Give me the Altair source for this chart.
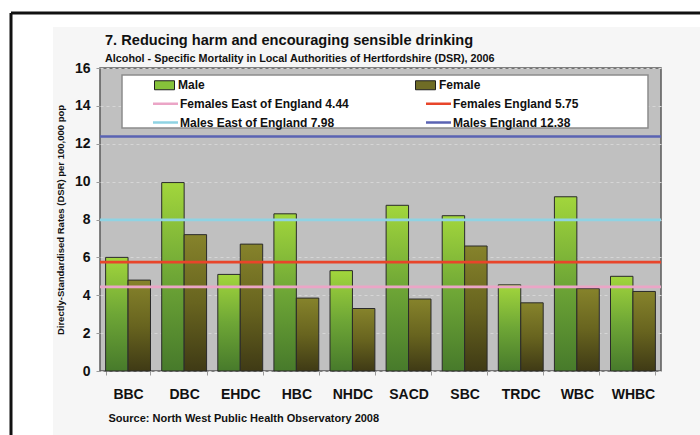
import altair as alt
import pandas as pd

# Local authorities of Hertfordshire
districts = ["BBC", "DBC", "EHDC", "HBC", "NHDC", "SACD", "SBC", "TRDC", "WBC", "WHBC"]
# Alcohol-specific mortality, directly standardised rate per 100,000
male_rates = [6.0, 9.95, 5.1, 8.3, 5.3, 8.75, 8.2, 4.55, 9.2, 5.0]
female_rates = [4.8, 7.2, 6.7, 3.85, 3.3, 3.8, 6.6, 3.6, 4.35, 4.2]

# Comparator rates drawn as horizontal reference lines
ref_labels = [
    "Females East of England 4.44",
    "Females England 5.75",
    "Males East of England 7.98",
    "Males England 12.38",
]
ref_values = [4.44, 5.75, 7.98, 12.38]
ref_colors = ["#eba5c6", "#e8452a", "#8fd3e3", "#5a63b3"]

sexes = ["Male", "Female"]
sex_colors = ["#86c23a", "#6f6c26"]

y_ticks = [0, 2, 4, 6, 8, 10, 12, 14, 16]

title_text = "7. Reducing harm and encouraging sensible drinking"
subtitle_text = "Alcohol - Specific Mortality in Local Authorities of Hertfordshire (DSR), 2006"
source_text = "Source: North West Public Health Observatory 2008"
y_title = "Directly-Standardised Rates (DSR) per 100,000 pop"

bars_df = pd.DataFrame({
    "district": districts * 2,
    "sex": ["Male"] * len(districts) + ["Female"] * len(districts),
    "rate": male_rates + female_rates,
})
ref_df = pd.DataFrame({"series": ref_labels, "value": ref_values})
one = pd.DataFrame({"k": [0]})

W, H = 561, 303
FONT = "Liberation Sans"

male_fill = {
    "gradient": "linear", "x1": 0, "y1": 0, "x2": 0, "y2": 1,
    "stops": [
        {"offset": 0, "color": "#a2d63c"},
        {"offset": 0.5, "color": "#6ea636"},
        {"offset": 1, "color": "#477a2b"},
    ],
}
female_fill = {
    "gradient": "linear", "x1": 0, "y1": 0, "x2": 0, "y2": 1,
    "stops": [
        {"offset": 0, "color": "#86832b"},
        {"offset": 0.5, "color": "#68641f"},
        {"offset": 1, "color": "#3f3a15"},
    ],
}

x_enc = alt.X(
    "district:N",
    sort=districts,
    scale=alt.Scale(paddingInner=0.2, paddingOuter=0.1),
    axis=alt.Axis(
        title=source_text,
        titleFont=FONT, titleFontSize=11, titleFontWeight="bold", titleColor="#111",
        titleX=8, titleY=47, titleAlign="left", titleBaseline="middle",
        labelFont=FONT, labelFontSize=14, labelFontWeight="bold", labelColor="#111",
        labelAngle=0, labelPadding=12, tickBand="extent", ticks=True, tickSize=4,
        tickColor="#9a9a9a", domain=False, grid=False,
    ),
)
xoff_enc = alt.XOffset(
    "sex:N", sort=sexes,
    scale=alt.Scale(domain=sexes, paddingInner=0, paddingOuter=0),
)
y_scale = alt.Scale(domain=[0, 16], nice=False)
y_axis = alt.Axis(
    title=y_title,
    titleFont=FONT, titleFontSize=9.5, titleFontWeight="bold", titleColor="#111",
    titlePadding=9,
    values=y_ticks, tickCount=9, labelOverlap=False, labelFont=FONT, labelFontSize=14,
    labelFontWeight="bold", labelColor="#111", labelPadding=6, tickSize=4,
    tickColor="#9a9a9a", domain=False, grid=True, gridColor="#d6d6d6",
    gridDash=[3, 3], gridWidth=1,
)
y_enc = alt.Y("rate:Q", scale=y_scale, axis=y_axis)

base = alt.Chart(bars_df)

male_bars = base.transform_filter(alt.datum.sex == "Male").mark_bar(
    fill=male_fill, stroke="#2a2a2a", strokeWidth=1
).encode(x=x_enc, xOffset=xoff_enc, y=y_enc)

female_bars = base.transform_filter(alt.datum.sex == "Female").mark_bar(
    fill=female_fill, stroke="#2a2a2a", strokeWidth=1
).encode(x=x_enc, xOffset=xoff_enc, y=y_enc)

# invisible layer that only carries the Male / Female legend swatches
sex_key = base.mark_bar(opacity=0).encode(
    x=x_enc, xOffset=xoff_enc, y=y_enc,
    fill=alt.Fill(
        "sex:N", sort=sexes,
        scale=alt.Scale(domain=sexes, range=sex_colors),
        legend=alt.Legend(
            orient="none", legendX=58, legendY=11, direction="horizontal",
            columns=2, columnPadding=208, title=None,
            labelFont=FONT, labelFontSize=12, labelFontWeight="bold", labelColor="#111",
            labelOffset=8, labelLimit=300, symbolSize=100,
            symbolType="M-1.9,-0.9H2.1V0.9H-1.9Z",
            symbolOpacity=1, symbolStrokeColor="#1f1f1f", symbolStrokeWidth=1,
        ),
    ),
)

legend_box = alt.Chart(one).mark_rect(
    fill="white", stroke="#8c8c8c", strokeWidth=1.5
).encode(x=alt.value(22), x2=alt.value(548), y=alt.value(7), y2=alt.value(60))

ref_lines = alt.Chart(ref_df).mark_rule(strokeWidth=2.6).encode(
    y=alt.Y("value:Q", scale=y_scale, axis=y_axis),
    stroke=alt.Stroke(
        "series:N", sort=ref_labels,
        scale=alt.Scale(domain=ref_labels, range=ref_colors),
        legend=alt.Legend(
            orient="none", legendX=59, legendY=29, direction="horizontal",
            columns=2, columnPadding=72, rowPadding=6, title=None,
            labelFont=FONT, labelFontSize=12, labelFontWeight="bold", labelColor="#111",
            labelOffset=8, labelLimit=300, symbolSize=100, symbolType="M-2.5,0H2.5",
            symbolStrokeWidth=2.5,
        ),
    ),
)

# heading lines above the plot
title_mark = alt.Chart(one).mark_text(
    text=title_text, font=FONT, fontSize=14.6, fontWeight="bold", color="#111",
    align="left", baseline="alphabetic",
).encode(x=alt.value(5), y=alt.value(-23))
subtitle_mark = alt.Chart(one).mark_text(
    text=subtitle_text, font=FONT, fontSize=10.8, fontWeight="bold", color="#111",
    align="left", baseline="alphabetic",
).encode(x=alt.value(5), y=alt.value(-6))

# page decoration: white margins around a faint panel, black frame at top and left
margin_left = alt.Chart(one).mark_rect(fill="white").encode(
    x=alt.value(-100), x2=alt.value(-47), y=alt.value(-68), y2=alt.value(367))
margin_top = alt.Chart(one).mark_rect(fill="white").encode(
    x=alt.value(-100), x2=alt.value(600), y=alt.value(-68), y2=alt.value(-41))
frame_top = alt.Chart(one).mark_rule(color="#111", strokeWidth=3).encode(
    x=alt.value(-89), x2=alt.value(600), y=alt.value(-55))
frame_left = alt.Chart(one).mark_rule(color="#111", strokeWidth=3).encode(
    x=alt.value(-89), y=alt.value(-55), y2=alt.value(367))

chart = alt.layer(
    margin_left, margin_top, frame_top, frame_left, title_mark, subtitle_mark,
    male_bars, female_bars, sex_key, legend_box, ref_lines,
).resolve_legend(fill="independent", stroke="independent").properties(
    width=W, height=H,
    autosize=alt.AutoSizeParams(type="none"),
    padding={"left": 100, "top": 68, "right": 39, "bottom": 64},
    background="#f6f6f6",
).configure_view(
    fill="#c0c0c0", stroke="#5a5a5a", strokeWidth=1.5
)

chart.save("out.html", embed_options={"renderer": "svg", "actions": False})
